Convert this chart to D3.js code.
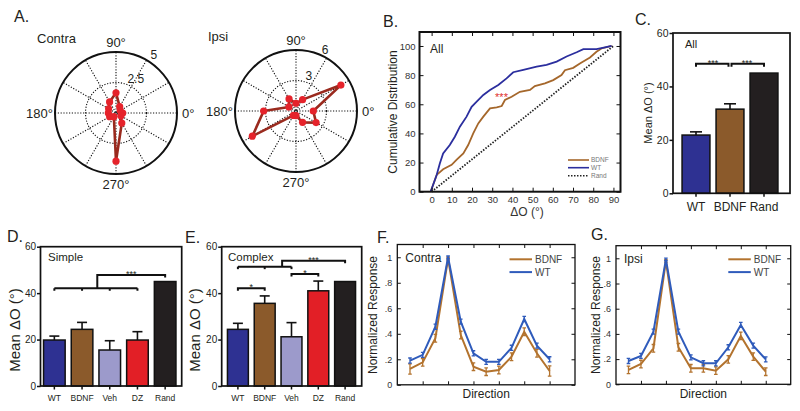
<!DOCTYPE html>
<html><head><meta charset="utf-8">
<script src="https://cdn.jsdelivr.net/npm/d3@7"></script>
<style>
body{margin:0;background:#fff}
svg{display:block}
text{font-family:"Liberation Sans",Arial,sans-serif}
</style>
</head><body>
<svg id="c" width="800" height="411"></svg>
<script>
// ---------------- DATA ----------------
const polarAngles = [0,30,60,90,120,150,180,210,240,270,300,330];
const contraRadii = [0.55,0.4,0.6,1.65,1.05,0.7,0.63,0.6,0.35,3.95,0.95,0.47];
const ipsiRadii   = [1.7,5.1,1.29,0.76,1.37,0.8,3.18,4.96,0.5,0.46,1.29,2.28];

const cumWtX   = [-0.5,2.5,4.1,5.7,9,11.5,14,17.3,19.8,22.3,25.6,28.9,33,37.1,40.4,45.4,52,56.9,61.9,66.8,71.8,75.1,81.6,85.8,89.1];
const cumWtY   = [0,11.5,19.5,26.3,32,37.7,44.6,51.5,58.3,61.8,66.4,69.8,73.2,77.8,82,83.6,85.9,87,89.3,92.8,95.7,97.8,97.8,99,100];
const cumBdnfX = [-0.5,2.5,5.7,9.9,12.3,15.7,18.1,20.6,23.1,25.6,28.9,32.2,34.7,36.3,39.6,43.7,48.7,51.1,56.1,60.2,64.3,66,70.1,73.4,78.4,81.6,84.1,89.1];
const cumBdnfY = [0,11.5,15.4,18.4,21.8,26.3,32,40,46.9,51.5,57.2,57.9,58.8,62.9,65.2,68.6,69.8,72.5,74.3,76.6,80,83.4,85,88,92.1,96,98.3,100];
const cumRandX = [0,90];
const cumRandY = [0,100];
const cumXTicks = [0,10,20,30,40,50,60,70,80,90];
const cumYTicks = [0,20,40,60,80,100];

const allCats  = ["WT","BDNF","Rand"];
const allMeans = [21.8,31.5,45];
const allErr   = [1.2,2.0,0];

const groupCats    = ["WT","BDNF","Veh","DZ","Rand"];
const simpleMeans  = [19.8,24.4,15.5,19.8,45];
const simpleErr    = [1.7,3.0,4.0,3.6,0];
const complexMeans = [24.4,35.6,21.2,41.0,45];
const complexErr   = [2.6,3.2,6.1,4.2,0];
const meanTicks    = [0,20,40,60];

const dirIdx      = [0,1,2,3,4,5,6,7,8,9,10,11];
const dirTicks    = [1,3,5,7,9,11];
const respTicks   = [0,0.2,0.4,0.6,0.8,1];
const respLabels  = ["0",".2",".4",".6",".8","1"];
const contraWT    = [0.19,0.235,0.455,1.0,0.495,0.247,0.18,0.18,0.29,0.516,0.307,0.2];
const contraWTErr = [0.02,0.02,0.02,0.01,0.02,0.02,0.02,0.02,0.02,0.02,0.02,0.02];
const contraBDNF  = [0.124,0.176,0.365,0.99,0.39,0.142,0.103,0.116,0.22,0.416,0.247,0.108];
const contraBDNFErr=[0.04,0.03,0.03,0.01,0.03,0.03,0.03,0.03,0.03,0.03,0.03,0.04];
const ipsiWT      = [0.185,0.225,0.418,0.992,0.418,0.214,0.167,0.167,0.294,0.471,0.307,0.198];
const ipsiWTErr   = [0.02,0.02,0.02,0.01,0.02,0.02,0.02,0.02,0.02,0.02,0.02,0.02];
const ipsiBDNF    = [0.114,0.161,0.286,0.979,0.294,0.127,0.127,0.108,0.198,0.384,0.22,0.1];
const ipsiBDNFErr = [0.03,0.03,0.03,0.01,0.03,0.03,0.03,0.03,0.03,0.03,0.03,0.03];

// ---------------- STYLE ----------------
const INK = "#231f20";
const barColors = {WT:"#2e3192", BDNF:"#8b5a2b", Veh:"#9c9acb", DZ:"#e21f26", Rand:"#231f20"};
const curveBlue = "#2b2e9e", curveBrown = "#a5672b";
const lineBlue = "#2f5bbb", lineBrown = "#b3732e";
const RAD = Math.PI/180;

const svg = d3.select("#c");
svg.append("rect").attr("width",800).attr("height",411).attr("fill","#fff");

function txt(x,y,s,size,o={}){
  const t = svg.append("text").attr("x",x).attr("y",y).text(s)
    .style("font-size",size+"px").attr("fill",o.fill||INK)
    .attr("text-anchor",o.anchor||"start");
  if(o.rot) t.attr("transform",`rotate(-90,${x},${y})`);
  return t;
}

// panel letters
[["A.",14,22],["B.",383,27],["C.",635,25],["D.",7,242],["E.",185,243],["F.",377,243],["G.",591,240]]
  .forEach(([s,x,y])=>txt(x,y,s,16));

// ---------------- A: polar ----------------
function polarPlot(cx,cy,R,rmax,radii,title,titleX,outerAng,innerAng,dxOut,dxIn){
  const g = svg.append("g").attr("transform",`translate(${cx},${cy})`);
  const rs = d3.scaleLinear().domain([0,rmax]).range([0,R]);
  const spokes=[0,30,60,90,120,150];
  g.selectAll(".sp").data(spokes).join("line")
    .attr("x1",d=>-R*Math.cos(d*RAD)).attr("y1",d=>R*Math.sin(d*RAD))
    .attr("x2",d=>R*Math.cos(d*RAD)).attr("y2",d=>-R*Math.sin(d*RAD))
    .attr("stroke","#111").attr("stroke-width",1.1).attr("stroke-dasharray","1.2,1.6");
  g.append("circle").attr("r",rs(rmax/2)).attr("fill","none").attr("stroke","#111")
    .attr("stroke-width",1.1).attr("stroke-dasharray","1.2,1.6");
  g.append("circle").attr("r",R).attr("fill","none").attr("stroke","#111").attr("stroke-width",2);
  const pts = polarAngles.map((a,i)=>({a,r:radii[i]}));
  const line = d3.lineRadial().angle(d=>(90-d.a)*RAD).radius(d=>rs(d.r)).curve(d3.curveLinearClosed);
  g.append("path").attr("d",line(pts)).attr("fill","none").attr("stroke","#9a2a1e")
    .attr("stroke-width",2.6).attr("stroke-linejoin","round");
  g.selectAll(".pt").data(pts).join("circle")
    .attr("cx",d=>rs(d.r)*Math.cos(d.a*RAD)).attr("cy",d=>-rs(d.r)*Math.sin(d.a*RAD))
    .attr("r",3.6).attr("fill","#e5232b");
  // labels
  txt(cx,cy-R-5,"90°",13,{anchor:"middle"});
  txt(cx,cy+R+15,"270°",13,{anchor:"middle"});
  txt(cx+R+5,cy+5,"0°",13);
  txt(cx-R-2,cy+5,"180°",13,{anchor:"end"});
  txt(cx+R*Math.cos(outerAng*RAD)+dxOut, cy-R*Math.sin(outerAng*RAD)-1, String(rmax),12);
  const ri = rs(rmax/2);
  txt(cx+ri*Math.cos(innerAng*RAD)+dxIn, cy-ri*Math.sin(innerAng*RAD)-2, String(rmax/2),12);
  txt(titleX,cy-70,title,13);
}
polarPlot(116,113,61,5,contraRadii,"Contra",37,60,68,4,0);
polarPlot(296,111,61,6,ipsiRadii,"Ipsi",208,66,72,1,0);

// ---------------- B: cumulative ----------------
(function(){
  const L=419.5,Rr=620.5,T=32,B=191.7;
  const x=d3.scaleLinear().domain([-6,93.5]).range([L,Rr]);
  const y=d3.scaleLinear().domain([0,109.6]).range([B,T]);
  const g=svg.append("g");
  const ln=d3.line().x(d=>x(d[0])).y(d=>y(d[1]));
  g.append("path").attr("d",ln(d3.zip(cumRandX,cumRandY))).attr("fill","none")
    .attr("stroke","#222").attr("stroke-width",1.8).attr("stroke-dasharray","1.5,1.5");
  g.append("path").attr("d",ln(d3.zip(cumBdnfX,cumBdnfY))).attr("fill","none")
    .attr("stroke",curveBrown).attr("stroke-width",1.8);
  g.append("path").attr("d",ln(d3.zip(cumWtX,cumWtY))).attr("fill","none")
    .attr("stroke",curveBlue).attr("stroke-width",1.8);
  // axes
  const ax=(gen,tr)=>{const a=g.append("g").attr("transform",tr).call(gen);
    a.select(".domain").remove();
    a.selectAll("line").attr("stroke","#111").attr("stroke-width",1);
    a.selectAll("text").style("font-size","9.5px").attr("fill","#333").style("font-family",'"Liberation Sans",Arial,sans-serif');
    return a;};
  ax(d3.axisLeft(y).tickValues(cumYTicks).tickSize(-4).tickPadding(4),`translate(${L},0)`);
  ax(d3.axisRight(y).tickValues(cumYTicks).tickSize(-4).tickFormat(""),`translate(${Rr},0)`);
  ax(d3.axisBottom(x).tickValues(cumXTicks).tickSize(-4).tickPadding(5),`translate(0,${B})`);
  ax(d3.axisTop(x).tickValues(cumXTicks).tickSize(-4).tickFormat(""),`translate(0,${T})`);
  g.append("rect").attr("x",L).attr("y",T).attr("width",Rr-L).attr("height",B-T)
    .attr("fill","none").attr("stroke","#111").attr("stroke-width",2);
  txt(430,53,"All",12);
  txt(397,112,"Cumulative Distribution",12,{anchor:"middle",rot:true});
  txt(527,216,"ΔO (°)",12,{anchor:"middle",fill:"#333"});
  txt(x(34.6),y(66.2)+6,"***",11,{anchor:"middle",fill:"#e0302e"});
  // legend
  const leg=[["BDNF",curveBrown,null,160],["WT",curveBlue,null,167.7],["Rand","#222","1.5,1.5",175.7]];
  leg.forEach(([s,c,da,yy])=>{
    g.append("line").attr("x1",568).attr("x2",589).attr("y1",yy).attr("y2",yy)
      .attr("stroke",c).attr("stroke-width",1.6).attr("stroke-dasharray",da);
    txt(591,yy+2.3,s,6.5,{fill:"#777"});
  });
})();

// ---------------- bar panels ----------------
function barPanel(o){
  const y=d3.scaleLinear().domain([0,60]).range([o.B,o.T]);
  const x=d3.scaleBand().domain(o.cats).range(o.xr).paddingInner(o.pi).paddingOuter(o.po);
  const g=svg.append("g");
  g.selectAll(".bar").data(o.cats).join("rect")
    .attr("x",d=>x(d)).attr("width",x.bandwidth())
    .attr("y",(d,i)=>y(o.means[i])).attr("height",(d,i)=>o.B-y(o.means[i]))
    .attr("fill",d=>barColors[d]).attr("stroke","#111").attr("stroke-width",1.5);
  o.cats.forEach((c,i)=>{
    if(!o.errs[i]) return;
    const cx=x(c)+x.bandwidth()/2, yt=y(o.means[i]+o.errs[i]);
    g.append("line").attr("x1",cx).attr("x2",cx).attr("y1",y(o.means[i])).attr("y2",yt)
      .attr("stroke","#111").attr("stroke-width",1.6);
    g.append("line").attr("x1",cx-o.cap).attr("x2",cx+o.cap).attr("y1",yt).attr("y2",yt)
      .attr("stroke","#111").attr("stroke-width",1.6);
  });
  const ya=g.append("g").attr("transform",`translate(${o.L},0)`)
    .call(d3.axisLeft(y).tickValues(meanTicks).tickSize(3.5).tickPadding(1));
  ya.select(".domain").remove();
  ya.selectAll("line").attr("stroke","#111").attr("stroke-width",1.5);
  ya.selectAll("text").style("font-size",o.yfs+"px").attr("fill",INK).style("font-family",'"Liberation Sans",Arial,sans-serif');
  const xa=g.append("g").attr("transform",`translate(0,${o.B})`)
    .call(d3.axisBottom(x).tickSize(3.5).tickPadding(o.xpad));
  xa.select(".domain").remove();
  xa.selectAll("line").attr("stroke","#111").attr("stroke-width",1.5);
  xa.selectAll("text").style("font-size",o.xfs+"px").attr("fill",INK).style("font-family",'"Liberation Sans",Arial,sans-serif');
  g.append("rect").attr("x",o.L).attr("y",o.T).attr("width",o.Rr-o.L).attr("height",o.B-o.T)
    .attr("fill","none").attr("stroke","#111").attr("stroke-width",1.7);
  return {x,y,g,cx:c=>x(c)+x.bandwidth()/2,step:x.step()};
}
function bracket(g,x1,x2,yv,drop){
  g.append("path").attr("d",`M${x1},${yv+drop}V${yv}H${x2}V${yv+drop}`)
    .attr("fill","none").attr("stroke","#111").attr("stroke-width",2);
}
function stars(x,yv,s,size){ txt(x,yv+2,s,size,{anchor:"middle"}); }

// C
(function(){
  const p=barPanel({cats:allCats,means:allMeans,errs:allErr,L:673,Rr:790,T:33,B:193.3,
    xr:[679,781],pi:0.18,po:0.09,cap:6,yfs:10.5,xfs:12,xpad:6});
  const yy=p.y(48.5);
  bracket(p.g,p.cx("WT"),p.cx("BDNF")-1.5,yy,3);
  bracket(p.g,p.cx("BDNF")+1.5,p.cx("Rand"),yy,3);
  stars((p.cx("WT")+p.cx("BDNF"))/2,yy,"***",9);
  stars((p.cx("BDNF")+p.cx("Rand"))/2,yy,"***",9);
  txt(685,48,"All",11);
  txt(652,113,"Mean ΔO (°)",11,{anchor:"middle",rot:true});
})();

// D
(function(){
  const p=barPanel({cats:groupCats,means:simpleMeans,errs:simpleErr,L:40.5,Rr:181.7,T:246.7,B:386,
    xr:[40.5,179],pi:0.22,po:0.11,cap:5,yfs:10,xfs:8.5,xpad:5});
  const g=p.g, yl=p.y(42.1), yu=p.y(47.8), d=2.5;
  g.append("path").attr("d",`M${p.cx("WT")},${yl}H${p.cx("DZ")}`).attr("stroke","#111").attr("stroke-width",2);
  ["WT","BDNF","Veh","DZ"].forEach(c=>g.append("line").attr("x1",p.cx(c)).attr("x2",p.cx(c))
    .attr("y1",yl).attr("y2",yl+d).attr("stroke","#111").attr("stroke-width",2));
  const mx=p.cx("BDNF")+0.55*p.step;
  g.append("path").attr("d",`M${mx},${yl}V${yu}H${p.cx("Rand")}V${yu+d}`).attr("fill","none")
    .attr("stroke","#111").attr("stroke-width",2);
  stars((mx+p.cx("Rand"))/2,yu,"***",9);
  txt(48,261,"Simple",11.5);
  txt(20,330,"Mean ΔO (°)",15,{anchor:"middle",rot:true});
})();

// E
(function(){
  const p=barPanel({cats:groupCats,means:complexMeans,errs:complexErr,L:221.7,Rr:361.7,T:246.7,B:386,
    xr:[224.5,358.5],pi:0.22,po:0.11,cap:5,yfs:10,xfs:8.5,xpad:5});
  const g=p.g, d=2.5;
  const y1=p.y(42.1);
  bracket(g,p.cx("WT"),p.cx("BDNF"),y1,d);
  stars((p.cx("WT")+p.cx("BDNF"))/2,y1,"*",9);
  const y2=p.y(48.2);
  bracket(g,p.cx("Veh"),p.cx("DZ"),y2,d);
  stars((p.cx("Veh")+p.cx("DZ"))/2,y2,"*",9);
  const y3=p.y(51.4), y4=p.y(53.9);
  g.append("path").attr("d",`M${p.cx("WT")},${y3}H${p.cx("Veh")}`).attr("stroke","#111").attr("stroke-width",2);
  ["WT","BDNF","Veh"].forEach(c=>g.append("line").attr("x1",p.cx(c)).attr("x2",p.cx(c))
    .attr("y1",y3).attr("y2",y3+d).attr("stroke","#111").attr("stroke-width",2));
  const mx=p.cx("BDNF")+0.65*p.step;
  g.append("path").attr("d",`M${mx},${y3}V${y4}H${p.cx("Rand")}V${y4+d}`).attr("fill","none")
    .attr("stroke","#111").attr("stroke-width",2);
  stars((mx+p.cx("Rand"))/2,y4,"***",9);
  txt(228,261,"Complex",11.5);
  txt(200,330,"Mean ΔO (°)",15,{anchor:"middle",rot:true});
})();

// ---------------- F, G ----------------
function linePanel(o){
  const x=d3.scaleLinear().domain([-1,13]).range([o.L,o.Rr]);
  const y=d3.scaleLinear().domain([0,1.1]).range([o.B,o.T]);
  const g=svg.append("g");
  const ax=(gen,tr)=>{const a=g.append("g").attr("transform",tr).call(gen);
    a.select(".domain").remove();
    a.selectAll("line").attr("stroke","#111").attr("stroke-width",1);
    a.selectAll("text").style("font-size","9px").attr("fill","#333").style("font-family",'"Liberation Sans",Arial,sans-serif');};
  ax(d3.axisLeft(y).tickValues(respTicks).tickFormat((d,i)=>respLabels[i]).tickSize(-3.5).tickPadding(5),`translate(${o.L},0)`);
  ax(d3.axisRight(y).tickValues(respTicks).tickSize(-3.5).tickFormat(""),`translate(${o.Rr},0)`);
  ax(d3.axisBottom(x).tickValues(dirTicks).tickSize(-3.5).tickFormat(""),`translate(0,${o.B})`);
  ax(d3.axisTop(x).tickValues(dirTicks).tickSize(-3.5).tickFormat(""),`translate(0,${o.T})`);
  g.append("rect").attr("x",o.L).attr("y",o.T).attr("width",o.Rr-o.L).attr("height",o.B-o.T)
    .attr("fill","none").attr("stroke","#111").attr("stroke-width",1.3);
  const ln=d3.line().x((d,i)=>x(dirIdx[i])).y(d=>y(d));
  [[o.bdnf,o.bdnfErr,lineBrown],[o.wt,o.wtErr,lineBlue]].forEach(([vals,errs,c])=>{
    g.append("path").attr("d",ln(vals)).attr("fill","none").attr("stroke",c).attr("stroke-width",2);
    vals.forEach((v,i)=>{
      const cx=x(dirIdx[i]);
      g.append("path").attr("d",`M${cx-1.8},${y(v-errs[i])}H${cx+1.8}M${cx},${y(v-errs[i])}V${y(v+errs[i])}M${cx-1.8},${y(v+errs[i])}H${cx+1.8}`)
        .attr("stroke",c).attr("stroke-width",1.3).attr("fill","none");
    });
  });
  // legend
  [["BDNF",lineBrown,o.legY],["WT",lineBlue,o.legY+12.8]].forEach(([s,c,yy])=>{
    g.append("line").attr("x1",o.legX).attr("x2",o.legX+22.5).attr("y1",yy).attr("y2",yy)
      .attr("stroke",c).attr("stroke-width",2);
    txt(o.legX+25.5,yy+3.5,s,10,{fill:"#444"});
  });
  txt(o.L+8,o.tY,o.title,12);
  txt((o.L+o.Rr)/2,397.5,"Direction",12,{anchor:"middle"});
  txt(o.ylX,315,"Normalized Response",12,{anchor:"middle",rot:true});
}
linePanel({L:397.3,Rr:575,T:244.5,B:384.8,wt:contraWT,wtErr:contraWTErr,bdnf:contraBDNF,bdnfErr:contraBDNFErr,
  legX:509.5,legY:259.3,title:"Contra",tY:261.5,ylX:377});
linePanel({L:616,Rr:790.7,T:245.7,B:384.3,wt:ipsiWT,wtErr:ipsiWTErr,bdnf:ipsiBDNF,bdnfErr:ipsiBDNFErr,
  legX:728.3,legY:259.3,title:"Ipsi",tY:263,ylX:600});
</script>
</body></html>
